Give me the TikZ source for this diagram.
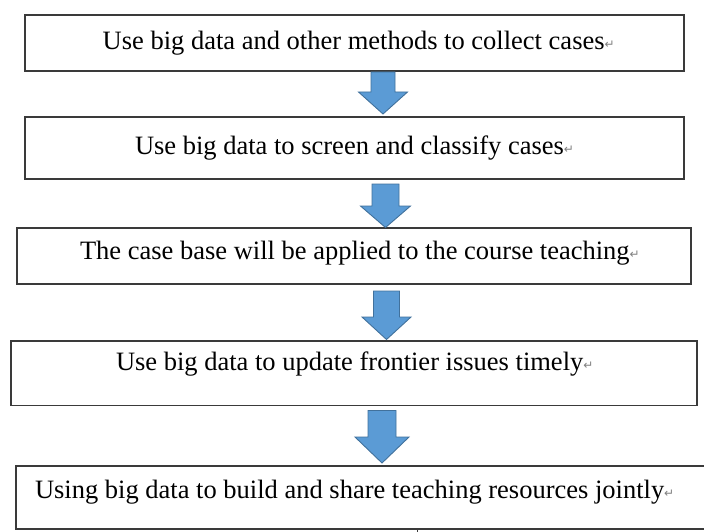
\documentclass[tikz,border=0pt]{standalone}
\usepackage{fontspec}
\setmainfont{Liberation Serif}
\newfontfamily\tnrfont{Liberation Serif}
\newfontfamily\symfont{DejaVu Sans}
\usetikzlibrary{calc}
\definecolor{arrowfill}{HTML}{5B9BD5}
\definecolor{arrowline}{HTML}{41719C}
\definecolor{boxline}{HTML}{3A3A3A}
\newcommand{\retmark}{\raisebox{1pt}{\symfont\fontsize{12}{12}\selectfont\textcolor{gray}{↵}}}
% #1 from node, #2 to node, #3 centre x, #4 shoulder y, #5 top gap, #6 tip gap, #7 shaft half width, #8 head half width
\newcommand{\flowarrow}[8]{%
  \filldraw[blockarrow] let \p1=(#1.south), \p2=(#2.north) in
    ({#3pt-#7pt},{\y1-#5pt}) -- ({#3pt+#7pt},{\y1-#5pt}) -- ({#3pt+#7pt},{-#4pt})
    -- ({#3pt+#8pt},{-#4pt}) -- ({#3pt},{\y2+#6pt}) -- ({#3pt-#8pt},{-#4pt})
    -- ({#3pt-#7pt},{-#4pt}) -- cycle;}
\tikzset{
  box/.style={draw=boxline, line width=1.3pt, fill=white, rectangle, inner sep=0pt, outer sep=0pt, anchor=north west},
  txt/.style={inner sep=0pt, outer sep=0pt, anchor=base west, font=\tnrfont\fontsize{26.5}{30}\selectfont},
  blockarrow/.style={fill=arrowfill, draw=arrowline, line width=0.9pt, line join=miter}
}
\begin{document}
\begin{tikzpicture}[x=1pt,y=-1pt]
\useasboundingbox (0,0) rectangle (704,532);
\clip (0,0) rectangle (704,532);
\fill[white] (0,0) rectangle (704,532);

\node[box, minimum width=659pt, minimum height=56pt] (b1) at (25,15) {};
\node[box, minimum width=659pt, minimum height=62pt] (b2) at (25,117) {};
\node[box, minimum width=674pt, minimum height=56pt] (b3) at (17,228) {};
\node[box, minimum width=686pt, minimum height=64.5pt] (b4) at (11,341) {};
\node[box, minimum width=700pt, minimum height=63pt] (b5) at (16,466) {};

\node[txt] (t1) at (102.7,50) {Use big data and other methods to collect cases\retmark};
\node[txt] (t2) at (135,154) {Use big data to screen and classify cases\retmark};
\node[txt] (t3) at (80,259) {The case base will be applied to the course teaching\retmark};
\node[txt] (t4) at (116,370) {Use big data to update frontier issues timely\retmark};
\node[txt] (t5) at (35,498) {Using big data to build and share teaching resources jointly\retmark};

\flowarrow{b1}{b2}{383}{92}{1}{3}{12}{24.5}
\flowarrow{b2}{b3}{385.5}{206}{5}{0.5}{13.5}{25}
\flowarrow{b3}{b4}{386.5}{317}{7}{1.5}{13}{24.5}
\flowarrow{b4}{b5}{382}{437}{5}{3}{14}{27}

\coordinate (tickTop) at (417,529);
\coordinate (tickBot) at (417,532);
\draw[boxline, line width=0.8pt] (tickTop) -- (tickBot);
\end{tikzpicture}
\end{document}
